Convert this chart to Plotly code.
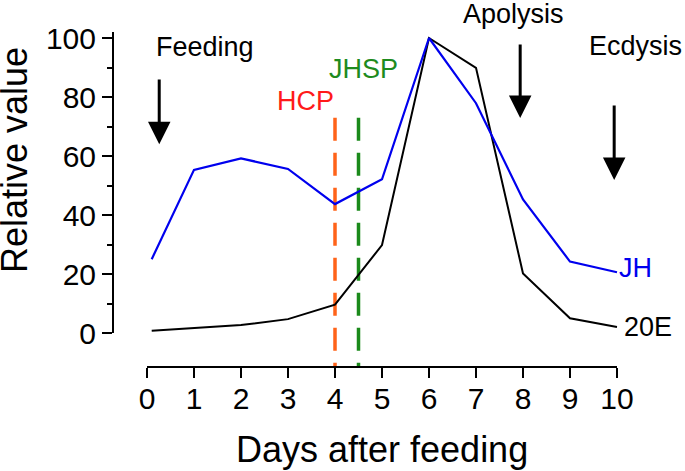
import plotly.graph_objects as go

# ---------------- data ----------------
days_jh = [0.1, 1, 2, 3, 4, 5, 6, 7, 8, 9, 10]
jh_values = [25, 55.3, 59.2, 55.6, 43.7, 52.1, 100, 77.9, 45.3, 24.2, 20.6]
days_20e = [0.1, 1, 2, 3, 4, 5, 6, 7, 8, 9, 10]
e20_values = [0.8, 1.8, 2.7, 4.7, 9.6, 29.8, 100, 89.9, 20.2, 5.0, 2.0]
x_ticks = list(range(0, 11))
y_ticks = [0, 20, 40, 60, 80, 100]
hcp_day = 4
jhsp_day = 4.5
marker_top = 73
events = ["Feeding", "Apolysis", "Ecdysis"]
event_days = [0.26, 7.94, 9.94]
arrow_tail = [86.4, 98.3, 77.6]
arrow_tip = [64.0, 72.9, 51.9]

# ---------------- layout geometry ----------------
W, H = 685, 471
FONT = "Arial, Liberation Sans, sans-serif"
xdom = [147 / W, 617 / W]
xr = [0, 10]
ydom = [1 - 333 / H, 1 - 32.1 / H]
yr = [0, 102]
xaxis_pos = 1 - 367 / H
yaxis_pos = 113 / W


def full_range(dom, r):
    span = (r[1] - r[0]) / (dom[1] - dom[0])
    return [r[0] - dom[0] * span, r[1] + (1 - dom[1]) * span]


fxr = full_range(xdom, xr)
fyr = full_range(ydom, yr)
# value of the x-axis line in data units
y_axis_line_val = fyr[0] + xaxis_pos * (fyr[1] - fyr[0])

fig = go.Figure()

# dashed markers
for d, col in [(hcp_day, "#FF6319"), (jhsp_day, "#1B8A1B")]:
    fig.add_trace(go.Scatter(x=[d, d], y=[marker_top, y_axis_line_val], mode="lines",
                             line=dict(color=col, width=3.5, dash="23px,12px"),
                             xaxis="x", yaxis="y", hoverinfo="skip", showlegend=False))

fig.add_trace(go.Scatter(x=days_20e, y=e20_values, mode="lines",
                         line=dict(color="black", width=2), xaxis="x", yaxis="y",
                         showlegend=False))
fig.add_trace(go.Scatter(x=days_jh, y=jh_values, mode="lines",
                         line=dict(color="#0000EE", width=2.2), xaxis="x", yaxis="y",
                         showlegend=False))

# dummy trace for visible axes
fig.add_trace(go.Scatter(x=[None], y=[None], xaxis="x2", yaxis="y2", showlegend=False,
                         hoverinfo="skip"))

annotations = []
for d, t0, t1 in zip(event_days, arrow_tail, arrow_tip):
    annotations.append(dict(x=d, y=t1, ax=d, ay=t0, xref="x", yref="y", axref="x", ayref="y",
                            text="", showarrow=True, arrowhead=2, arrowwidth=3,
                            arrowsize=1.5, arrowcolor="black", standoff=0))

labels = [
    ("Feeding", 1.23, 97.0, "black"),
    ("Apolysis", 7.8, 108.2, "black"),
    ("Ecdysis", 10.4, 97.3, "black"),
    ("HCP", 3.38, 78.6, "#FF1A1A"),
    ("JHSP", 4.6, 89.5, "#1E8B1E"),
    ("JH", 10.4, 22.0, "#0000EE"),
    ("20E", 10.66, 2.0, "black"),
]
for txt, x, y, col in labels:
    annotations.append(dict(x=x, y=y, xref="x", yref="y", text=txt, showarrow=False,
                            font=dict(family=FONT, size=27, color=col),
                            xanchor="center", yanchor="middle"))

annotations.append(dict(x=15 / W, y=1 - 160 / H, xref="paper", yref="paper",
                        text="Relative value", textangle=-90, showarrow=False,
                        font=dict(family=FONT, size=36, color="black"),
                        xanchor="center", yanchor="middle"))
annotations.append(dict(x=(xdom[0] + xdom[1]) / 2, y=1 - 449 / H, xref="paper", yref="paper",
                        text="Days after feeding", showarrow=False,
                        font=dict(family=FONT, size=36, color="black"),
                        xanchor="center", yanchor="middle"))

fig.update_layout(
    width=W, height=H,
    margin=dict(l=0, r=0, t=0, b=0),
    paper_bgcolor="white", plot_bgcolor="rgba(0,0,0,0)",
    showlegend=False,
    xaxis=dict(domain=[0, 1], range=fxr, visible=False, fixedrange=True),
    yaxis=dict(domain=[0, 1], range=fyr, visible=False, fixedrange=True),
    xaxis2=dict(domain=xdom, range=xr, anchor="free", position=xaxis_pos,
                showline=True, linecolor="black", linewidth=2,
                ticks="outside", ticklen=10, tickwidth=2, tickcolor="black",
                tickvals=x_ticks, ticktext=[str(v) for v in x_ticks],
                ticklabelstandoff=-5,
                tickfont=dict(family=FONT, size=30, color="black"),
                showgrid=False, zeroline=False, automargin=False),
    yaxis2=dict(domain=ydom, range=yr, anchor="free", position=yaxis_pos,
                showline=True, linecolor="black", linewidth=2,
                ticks="outside", ticklen=10, tickwidth=2, tickcolor="black",
                tickvals=y_ticks, ticktext=[str(v) for v in y_ticks],
                minor=dict(tickvals=[10, 30, 50, 70, 90], ticks="outside", ticklen=5,
                           tickwidth=2, tickcolor="black"),
                tickfont=dict(family=FONT, size=30, color="black"),
                showgrid=False, zeroline=False, automargin=False),
    annotations=annotations,
)

fig.write_html("out.html", config={"displayModeBar": False},
               post_script="document.body.style.margin='0';document.body.style.padding='0';")
